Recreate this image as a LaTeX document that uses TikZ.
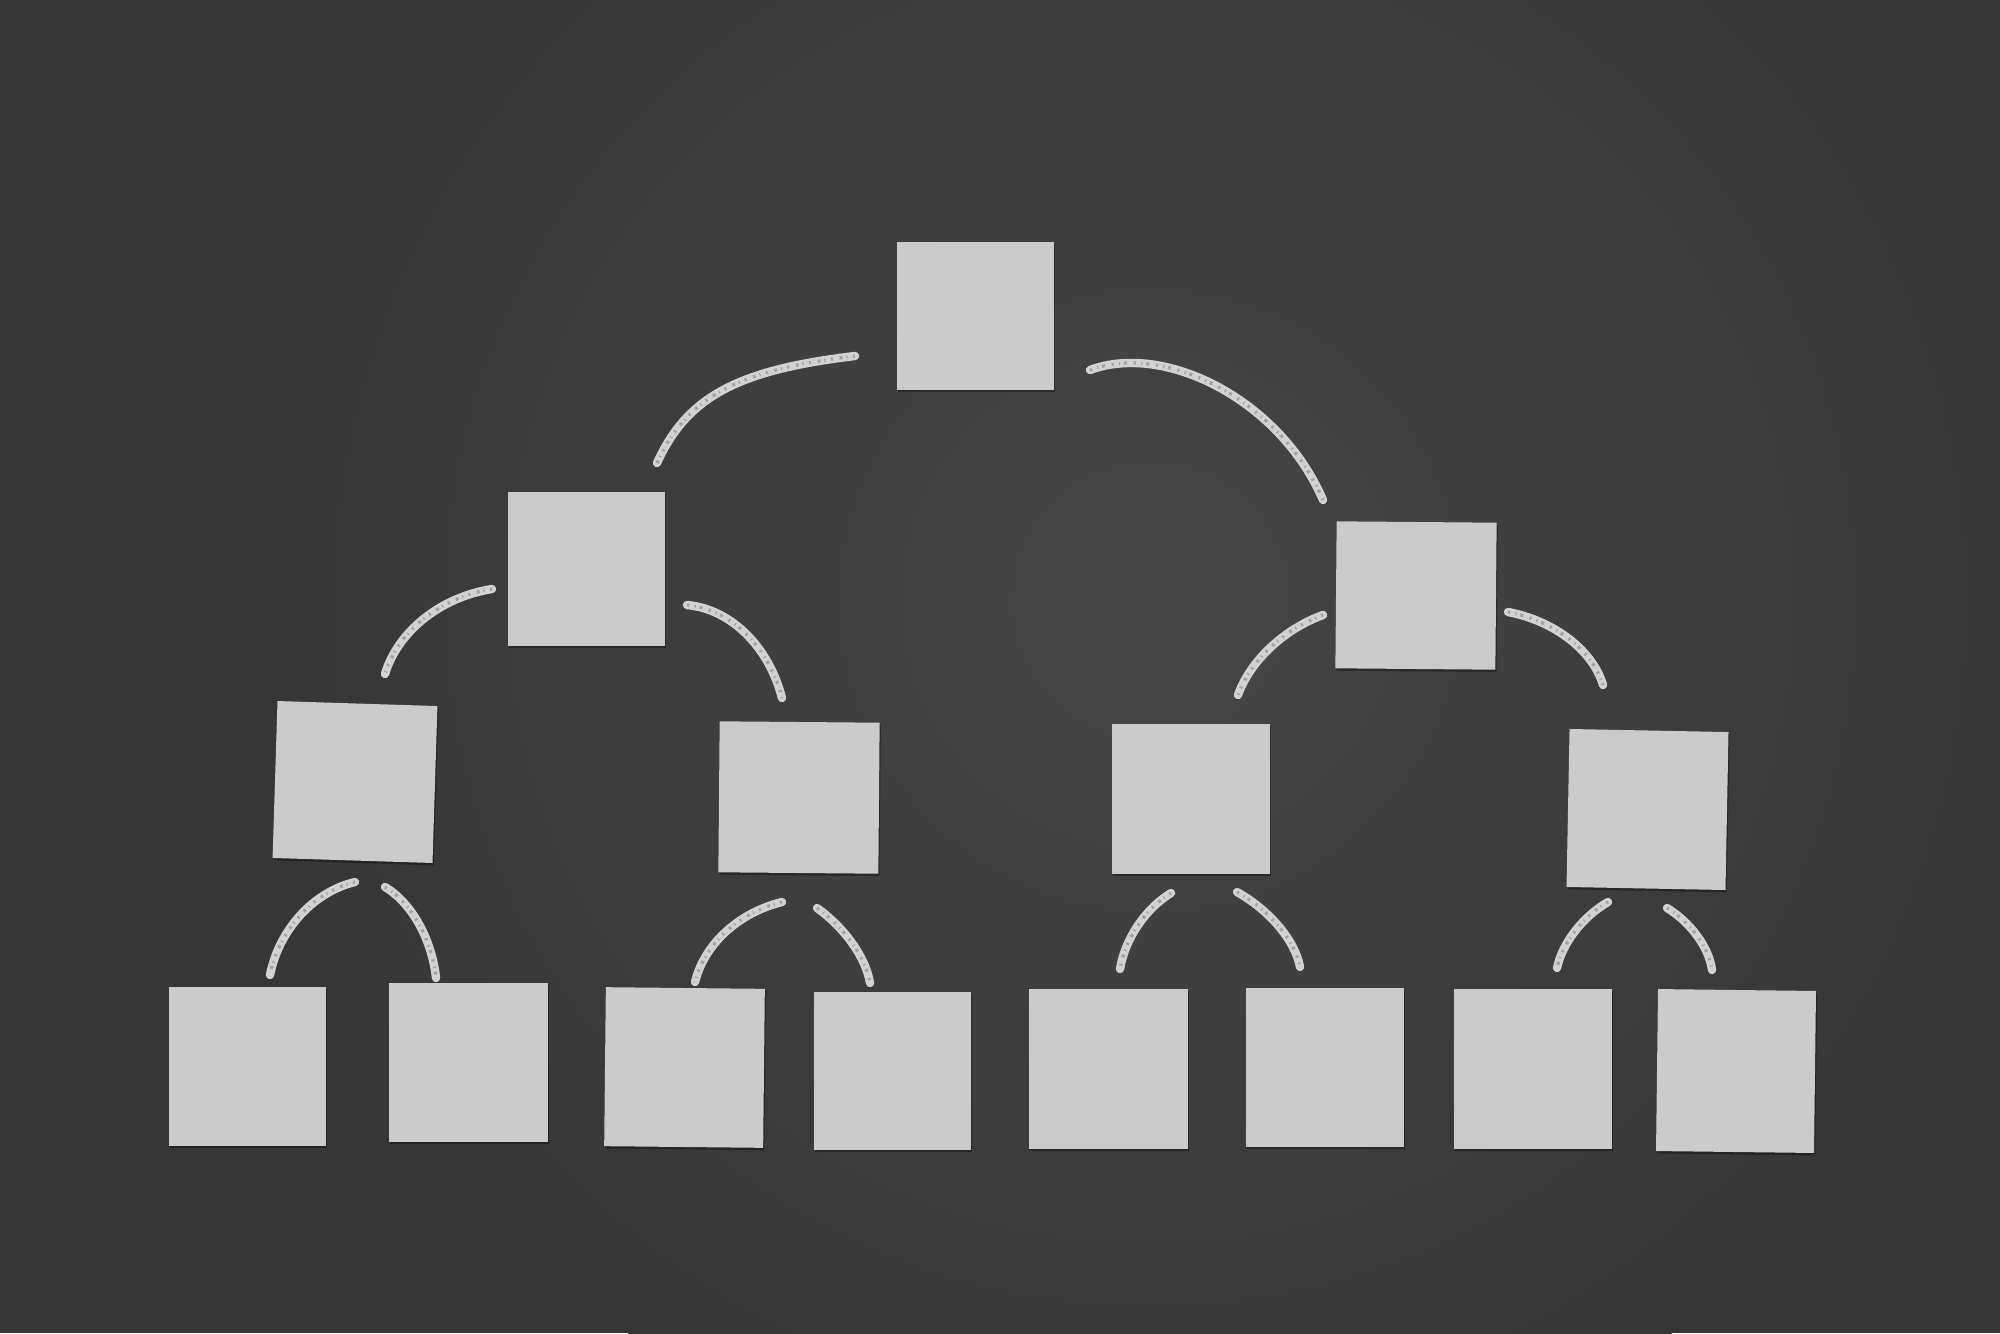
\documentclass[tikz,border=0pt]{standalone}
\usetikzlibrary{shadows}
\definecolor{board}{HTML}{363636}
\definecolor{boardlight}{HTML}{464646}
\definecolor{paper}{HTML}{CBCBCB}
\definecolor{chalkc}{HTML}{D2D2D2}
\tikzset{
  note/.style={fill=paper, draw=none, inner sep=0pt, outer sep=0pt,
    minimum width=79pt, minimum height=77pt,
    drop shadow={shadow xshift=0.6pt, shadow yshift=-1.2pt, opacity=0.35, fill=black}},
  chalk/.style={draw=chalkc, line width=4.2pt, line cap=round},
  chalkgrain/.style={draw=board, line width=1.6pt, opacity=0.3,
    dash pattern=on 1.1pt off 2.7pt on 0.6pt off 1.9pt on 1.5pt off 3.3pt}
}
\begin{document}
\begin{tikzpicture}[x=0.5pt,y=-0.5pt]
\useasboundingbox (0,0) rectangle (2000,1333);
\fill[board] (0,0) rectangle (2000,1333);
\begin{scope}
\clip (0,0) rectangle (2000,1333);
\shade[inner color=boardlight, outer color=board] (1150,600) circle (900);
\end{scope}

% notes
\node[note, minimum width=78.5pt, minimum height=74pt] (top) at (975.5,316) {};
\node[note, minimum width=78.5pt, minimum height=77pt] (l2l) at (586.5,569) {};
\node[note, minimum width=80pt, minimum height=73.5pt, rotate=-0.5] (l2r) at (1416,595.5) {};
\node[note, minimum width=80pt, minimum height=78.5pt, rotate=-1.8] (a) at (355,782) {};
\node[note, minimum width=80pt, minimum height=75.5pt, rotate=-0.5] (b) at (799,797.5) {};
\node[note, minimum width=79pt, minimum height=75pt] (c) at (1191,799) {};
\node[note, minimum width=79.5pt, minimum height=79pt, rotate=-1.1] (d) at (1647.5,809.5) {};
\node[note, minimum width=78.5pt, minimum height=79.5pt] (b1) at (247.5,1066.5) {};
\node[note, minimum width=79.5pt, minimum height=79.5pt] (b2) at (468.5,1062.5) {};
\node[note, minimum width=79.5pt, minimum height=79.5pt, rotate=-0.6] (b3) at (684.5,1067.5) {};
\node[note, minimum width=78.5pt, minimum height=79pt] (b4) at (892.5,1071) {};
\node[note, minimum width=79.5pt, minimum height=80pt] (b5) at (1108.5,1068.5) {};
\node[note, minimum width=79pt, minimum height=79.5pt] (b6) at (1325,1067.5) {};
\node[note, minimum width=79pt, minimum height=80pt] (b7) at (1533,1069) {};
\node[note, minimum width=79pt, minimum height=81pt, rotate=-0.7] (b8) at (1736,1071) {};

% chalk end points
\coordinate (tls) at (855,356);   \coordinate (tle) at (657,463);
\coordinate (trs) at (1090,370);  \coordinate (tre) at (1323,500);
\coordinate (als) at (492,589);   \coordinate (ale) at (385,674);
\coordinate (ars) at (687,605);   \coordinate (are) at (782,698);
\coordinate (bls) at (1323,615);  \coordinate (ble) at (1238,695);
\coordinate (brs) at (1508,612);  \coordinate (bre) at (1603,685);
\coordinate (p1s) at (355,882);   \coordinate (p1e) at (270,975);
\coordinate (p2s) at (385,887);   \coordinate (p2e) at (436,978);
\coordinate (p3s) at (782,902);   \coordinate (p3e) at (695,982);
\coordinate (p4s) at (817,908);   \coordinate (p4e) at (870,983);
\coordinate (p5s) at (1171,893);  \coordinate (p5e) at (1120,969);
\coordinate (p6s) at (1237,892);  \coordinate (p6e) at (1300,967);
\coordinate (p7s) at (1608,902);  \coordinate (p7e) at (1557,968);
\coordinate (p8s) at (1667,908);  \coordinate (p8e) at (1712,970);

\foreach \s in {chalk, chalkgrain}{
\draw[\s] (tls) .. controls (737,370) and (687,397) .. (tle);
\draw[\s] (trs) .. controls (1165,342) and (1280,400) .. (tre);
\draw[\s] (als) .. controls (441,597) and (398,631) .. (ale);
\draw[\s] (ars) .. controls (731,609) and (769,647) .. (are);
\draw[\s] (bls) .. controls (1284,629) and (1250,661) .. (ble);
\draw[\s] (brs) .. controls (1555,621) and (1593,651) .. (bre);
\draw[\s] (p1s) .. controls (313,892) and (279,930) .. (p1e);
\draw[\s] (p2s) .. controls (412,903) and (432,940) .. (p2e);
\draw[\s] (p3s) .. controls (741,912) and (705,942) .. (p3e);
\draw[\s] (p4s) .. controls (845,928) and (866,958) .. (p4e);
\draw[\s] (p5s) .. controls (1145,909) and (1125,939) .. (p5e);
\draw[\s] (p6s) .. controls (1269,910) and (1295,940) .. (p6e);
\draw[\s] (p7s) .. controls (1582,917) and (1562,944) .. (p7e);
\draw[\s] (p8s) .. controls (1690,922) and (1709,947) .. (p8e);
}
\end{tikzpicture}
\end{document}
